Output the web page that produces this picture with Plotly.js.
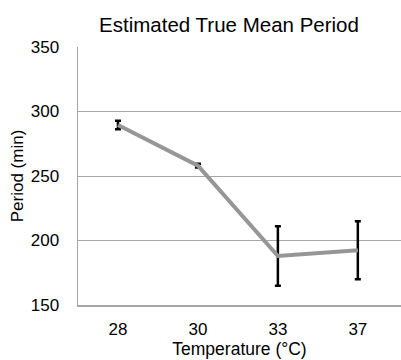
<!DOCTYPE html>
<html><head><meta charset="utf-8">
<script src="https://cdn.plot.ly/plotly-3.0.1.min.js"></script>
<style>body{margin:0;padding:0;background:#fff}#chart{width:401px;height:360px}</style>
</head><body><div id="chart"></div>
<script>
const temperatures = ['28', '30', '33', '37'];
const meanPeriod = [289.5, 258, 188, 192.5];
const errorPeriod = [3.3, 1.5, 23, 22.5];
const yTicks = [150, 200, 250, 300, 350];

const trace = {
  x: temperatures, y: meanPeriod, type: 'scatter', mode: 'lines',
  line: {color: '#969696', width: 4},
  error_y: {type: 'data', array: errorPeriod, visible: true, color: '#000', thickness: 2.5, width: 3}
};
const layout = {
  width: 401, height: 360,
  margin: {l: 78, r: 0, t: 47, b: 55},
  paper_bgcolor: '#fff', plot_bgcolor: '#fff',
  showlegend: false,
  font: {family: 'Liberation Sans, Arial, sans-serif', color: '#000'},
  title: {text: 'Estimated True Mean Period', font: {size: 20.5, color: '#000'}, x: 229/401, xanchor: 'center', y: 1 - 25/360, yanchor: 'middle'},
  xaxis: {type: 'category', range: [-0.5, 3.54], showgrid: false, showline: true, linecolor: '#a6a6a6', linewidth: 1.5,
    ticks: '', tickfont: {size: 17}, ticklabelstandoff: 8,
    title: {text: 'Temperature (°C)', font: {size: 17.5}, standoff: 4}},
  yaxis: {range: [150, 350], tickvals: yTicks, showgrid: true, gridcolor: '#a6a6a6', gridwidth: 1,
    showline: true, linecolor: '#a6a6a6', linewidth: 1.5, zeroline: false, ticks: '', tickfont: {size: 17},
    ticklabelstandoff: 14,
    title: {text: 'Period (min)', font: {size: 17}, standoff: 3}}
};
Plotly.newPlot('chart', [trace], layout, {displayModeBar: false, staticPlot: true});
</script></body></html>
